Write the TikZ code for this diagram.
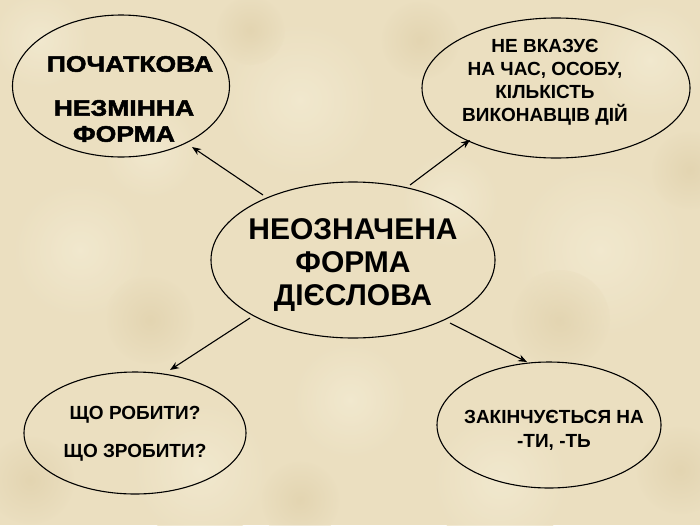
\documentclass[tikz,border=0pt]{standalone}
\usepackage{fontspec}
\setmainfont{Liberation Sans}
\newfontfamily\heavyfont[BoldFeatures={FakeBold=2.2,FakeStretch=1.18}]{Liberation Sans}
\usetikzlibrary{shapes.geometric,arrows.meta}
\definecolor{parch}{RGB}{235,223,192}
\definecolor{parchdark}{RGB}{220,203,163}
\definecolor{parchlight}{RGB}{244,236,212}
\begin{document}
\begin{tikzpicture}[x=1pt,y=-1pt,
  ell/.style={draw=black,line width=1.1pt,ellipse,inner sep=0pt},
  lbl/.style={font=\bfseries,align=center,inner sep=0pt},
  conn/.style={line width=1.1pt,-{Stealth[length=9pt,width=7pt]}}]
\useasboundingbox (0,0) rectangle (700,525);
\fill[parch] (0,0) rectangle (700,525);
% subtle texture blotches
\foreach \x/\y/\r in {80/250/70,300/100/80,600/250/90,200/470/70,500/480/70,650/60/60,40/40/50,350/400/60,450/200/50,150/150/50}{
  \shade[inner color=parchlight,outer color=parch,opacity=0.7] (\x,\y) circle[radius=\r];
}
\foreach \x/\y/\r in {150/320/45,420/40/40,560/320/50,300/500/40,30/480/45,680/470/45,250/30/35,690/170/40}{
  \shade[inner color=parchdark,outer color=parch,opacity=0.5] (\x,\y) circle[radius=\r];
}
% ellipses
\node[ell,minimum width=284pt,minimum height=156pt] (c) at (353,260) {};
\node[ell,minimum width=217pt,minimum height=142pt] (tl) at (121,86) {};
\node[ell,minimum width=268pt,minimum height=140pt] (tr) at (556,88) {};
\node[ell,minimum width=222pt,minimum height=122pt] (bl) at (135,433) {};
\node[ell,minimum width=224pt,minimum height=126pt] (br) at (549,425) {};
% texts
\node[lbl,font=\bfseries\fontsize{30}{33}\selectfont] (ct) at (353,265) {НЕОЗНАЧЕНА\\ФОРМА\\ДІЄСЛОВА};
\node[lbl,font=\heavyfont\bfseries\fontsize{22.5}{26}\selectfont] (tlt1) at (130,64) {ПОЧАТКОВА};
\node[lbl,font=\heavyfont\bfseries\fontsize{22.5}{26}\selectfont] (tlt2) at (124,121) {НЕЗМІННА\\ФОРМА};
\node[lbl,font=\bfseries\fontsize{19}{23}\selectfont] (trt) at (545,82) {НЕ ВКАЗУЄ\\НА ЧАС, ОСОБУ,\\КІЛЬКІСТЬ\\ВИКОНАВЦІВ ДІЙ};
\node[lbl,font=\bfseries\fontsize{19}{38}\selectfont] (blt) at (135,434) {ЩО РОБИТИ?\\ЩО ЗРОБИТИ?};
\node[lbl,font=\bfseries\fontsize{19}{24}\selectfont] (brt) at (554,430) {ЗАКІНЧУЄТЬСЯ НА\\-ТИ, -ТЬ};
% connectors
\coordinate (a1) at (263,195); \coordinate (b1) at (192,147);
\coordinate (a2) at (410,185); \coordinate (b2) at (470,140);
\coordinate (a3) at (250,318); \coordinate (b3) at (170,370);
\coordinate (a4) at (450,323); \coordinate (b4) at (527,362);
\draw[conn] (a1) -- (b1);
\draw[conn] (a2) -- (b2);
\draw[conn] (a3) -- (b3);
\draw[conn] (a4) -- (b4);
\end{tikzpicture}
\end{document}
